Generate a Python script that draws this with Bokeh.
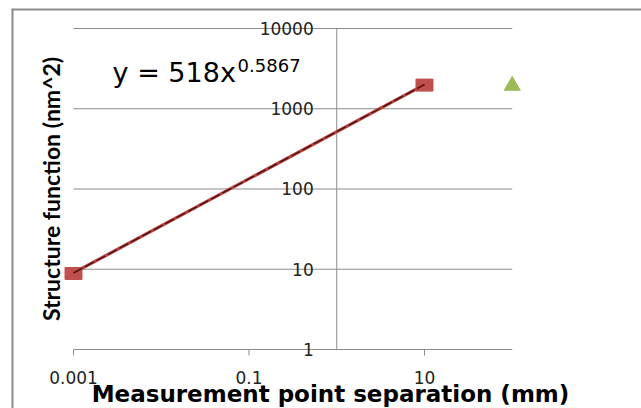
import math
from bokeh.plotting import figure
from bokeh.models import Range1d, Label, LabelSet, ColumnDataSource
from bokeh.core.properties import value
from bokeh.embed import file_html
from bokeh.resources import INLINE

# ---- data ----
meas_x = [0.001, 10]
meas_y = [8.85, 1970]
other_x = [100]
other_y = [1940]
trend_x = [0.001, 10]
trend_y = [9.0, 2000]
coef = 518
expo = 0.5867
x_min, x_max = 0.001, 100
y_min, y_max = 1, 10000
x_ticks = [0.001, 0.1, 10]
x_tick_labels = ["0.001", "0.1", "10"]
y_ticks = [1, 10, 100, 1000, 10000]
y_tick_labels = ["1", "10", "100", "1000", "10000"]
y_axis_cross = 1
x_title = "Measurement point separation (mm)"
y_title = "Structure function (nm^2)"

GRAY = "#8C8C8C"
W, H = 641, 408
# chart-area range (log10 limits) so that the plot area sits like the original
x_lo, x_hi = -3.7066, 3.473
y_lo, y_hi = -0.7352, 4.2492
px_per_dec_y = 80.25

p = figure(width=W, height=H, x_axis_type="log", y_axis_type="log",
           x_range=Range1d(10 ** x_lo, 10 ** x_hi),
           y_range=Range1d(10 ** y_lo, 10 ** y_hi),
           x_axis_location=None, y_axis_location=None,
           output_backend="svg", toolbar_location=None,
           min_border_left=11, min_border_right=0,
           min_border_top=8, min_border_bottom=0)
p.outline_line_color = None
p.background_fill_color = "white"
p.border_fill_color = "white"
p.grid.visible = False

# chart area border (left and top edges)
xs, xe = p.x_range.start, p.x_range.end
ys, ye = p.y_range.start, p.y_range.end
p.segment(x0=[xs, xs], x1=[xs, xe], y0=[ys, ye], y1=[ye, ye],
          line_color=GRAY, line_width=4)

# gridlines, x axis line and y axis line
gy = y_ticks
p.segment(x0=[x_min] * len(gy), x1=[x_max] * len(gy), y0=gy, y1=gy,
          line_color=GRAY, line_width=1)
p.segment(x0=[y_axis_cross], x1=[y_axis_cross], y0=[y_min], y1=[y_max],
          line_color=GRAY, line_width=1)
# x tick marks (6 px below the axis line)
tick_bottom = y_min * 10 ** (-6 / px_per_dec_y)
p.segment(x0=x_ticks, x1=x_ticks, y0=[y_min] * len(x_ticks),
          y1=[tick_bottom] * len(x_ticks), line_color=GRAY, line_width=1)

# x tick labels
xsrc = ColumnDataSource(dict(x=x_ticks, y=[y_min * 10 ** (-28 / px_per_dec_y)] * len(x_ticks),
                             t=x_tick_labels))
p.add_layout(LabelSet(x="x", y="y", text="t", source=xsrc,
                      text_align="center", text_baseline="middle",
                      text_font=value("DejaVu Sans"), text_font_size="17px",
                      text_color="#222222"))
# y tick labels centred on the y axis crossing
ysrc = ColumnDataSource(dict(x=[y_axis_cross] * len(y_ticks), y=y_ticks, t=y_tick_labels))
p.add_layout(LabelSet(x="x", y="y", text="t", source=ysrc, x_offset=-23,
                      text_align="right", text_baseline="middle",
                      text_font=value("DejaVu Sans"), text_font_size="17px",
                      text_color="#222222"))

# markers
p.rect(x=meas_x, y=meas_y, width=17, height=12, width_units="screen",
       height_units="screen", fill_color="#C0504D", line_color="#C0504D")
p.scatter(x=other_x, y=other_y, marker="triangle", size=16,
          fill_color="#9BBB59", line_color="#9BBB59")

# trendline
p.line(trend_x, trend_y, line_color="#B5403C", line_width=3.2)
p.line(trend_x, trend_y, line_color="#3A0A0A", line_width=1.1, line_dash="10 3")

# equation
eq_x = 0.00279
p.add_layout(Label(x=eq_x, y=2830, text=f"y = {coef}x", text_font="DejaVu Sans",
                   text_font_size="27px", text_color="black",
                   text_baseline="middle"))
p.add_layout(Label(x=eq_x, y=3430, x_offset=125, text=f"{expo}",
                   text_font="DejaVu Sans", text_font_size="18px",
                   text_color="black", text_baseline="middle"))

# axis titles
p.add_layout(Label(x=5.47e-4, y=100, text=y_title, angle=math.pi / 2,
                   text_align="center", text_baseline="middle",
                   text_font="Lato", text_font_style="bold",
                   text_font_size="23px", text_color="black"))
p.add_layout(Label(x=0.849, y=y_min * 10 ** (-44 / px_per_dec_y), text=x_title,
                   text_align="center", text_baseline="middle",
                   text_font="DejaVu Sans", text_font_style="bold",
                   text_font_size="23px", text_color="black"))

open("out.html", "w").write(file_html(p, INLINE))
